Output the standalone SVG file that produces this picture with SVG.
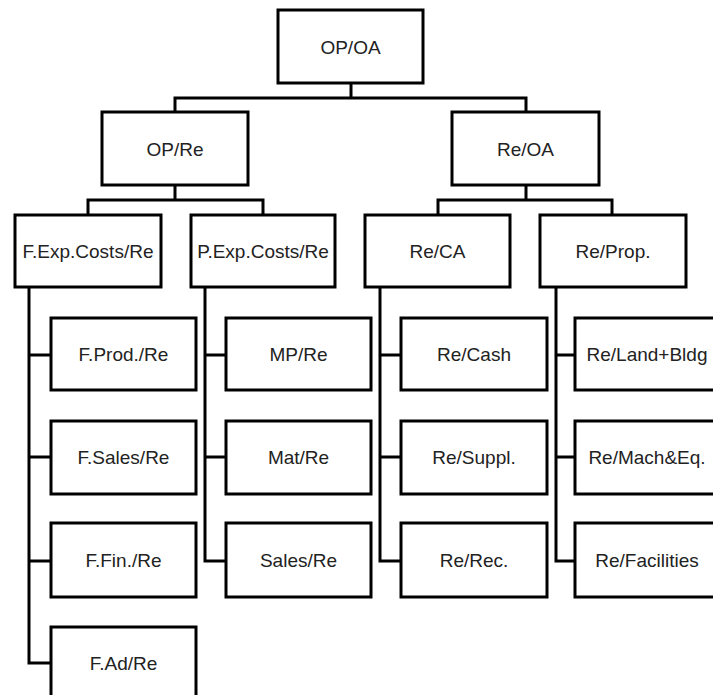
<svg xmlns="http://www.w3.org/2000/svg" width="713" height="695" viewBox="0 0 713 695">
<style>
rect.n{fill:#fff;stroke:#000;stroke-width:3}
text{font-family:"Liberation Sans",Arial,sans-serif;font-size:19px;fill:#222;text-anchor:middle;dominant-baseline:central}
#connectors path{fill:none;stroke:#000;stroke-width:3}
</style>
<rect width="713" height="695" fill="#fff"/>
<g id="connectors">
<path d="M351,83V98M175,112V98H526V112"/>
<path d="M175,185V200M88,215V200H263V215"/>
<path d="M526,185V200M438,215V200H612V215"/>
<path d="M29,287V663H51M29,355H51M29,457H51M29,561H51"/>
<path d="M205,287V561H226M205,355H226M205,457H226"/>
<path d="M380,287V561H401M380,355H401M380,457H401"/>
<path d="M556,287V561H575M556,355H575M556,457H575"/>
</g>
<g id="n-op-oa"><rect class="n" x="278" y="10" width="145" height="73"/><text x="350.5" y="47">OP/OA</text></g>
<g id="n-op-re"><rect class="n" x="102" y="112" width="146" height="73"/><text x="175" y="149">OP/Re</text></g>
<g id="n-re-oa"><rect class="n" x="452" y="112" width="147" height="73"/><text x="525.5" y="149">Re/OA</text></g>
<g id="n-fexp"><rect class="n" x="15" y="215" width="146" height="72"/><text x="88" y="251">F.Exp.Costs/Re</text></g>
<g id="n-pexp"><rect class="n" x="191" y="215" width="144" height="72"/><text x="263" y="251">P.Exp.Costs/Re</text></g>
<g id="n-re-ca"><rect class="n" x="365" y="215" width="145" height="72"/><text x="437.5" y="251">Re/CA</text></g>
<g id="n-re-prop"><rect class="n" x="540" y="215" width="146" height="72"/><text x="613" y="251">Re/Prop.</text></g>
<g id="n-fprod"><rect class="n" x="51" y="318" width="145" height="72"/><text x="123.5" y="354">F.Prod./Re</text></g>
<g id="n-fsales"><rect class="n" x="51" y="421" width="145" height="73"/><text x="123.5" y="457">F.Sales/Re</text></g>
<g id="n-ffin"><rect class="n" x="51" y="523" width="145" height="74"/><text x="123.5" y="560">F.Fin./Re</text></g>
<g id="n-fad"><rect class="n" x="51" y="627" width="145" height="80"/><text x="123.5" y="663">F.Ad/Re</text></g>
<g id="n-mp"><rect class="n" x="226" y="318" width="145" height="72"/><text x="298.5" y="354">MP/Re</text></g>
<g id="n-mat"><rect class="n" x="226" y="421" width="145" height="73"/><text x="298.5" y="457">Mat/Re</text></g>
<g id="n-sales"><rect class="n" x="226" y="523" width="145" height="74"/><text x="298.5" y="560">Sales/Re</text></g>
<g id="n-cash"><rect class="n" x="401" y="318" width="146" height="72"/><text x="474" y="354">Re/Cash</text></g>
<g id="n-suppl"><rect class="n" x="401" y="421" width="146" height="73"/><text x="474" y="457">Re/Suppl.</text></g>
<g id="n-rec"><rect class="n" x="401" y="523" width="146" height="74"/><text x="474" y="560">Re/Rec.</text></g>
<g id="n-land"><rect class="n" x="575" y="318" width="146" height="72"/><text x="647" y="354">Re/Land+Bldg</text></g>
<g id="n-mach"><rect class="n" x="575" y="421" width="146" height="73"/><text x="647" y="457">Re/Mach&amp;Eq.</text></g>
<g id="n-fac"><rect class="n" x="575" y="523" width="146" height="74"/><text x="647" y="560">Re/Facilities</text></g>
</svg>
